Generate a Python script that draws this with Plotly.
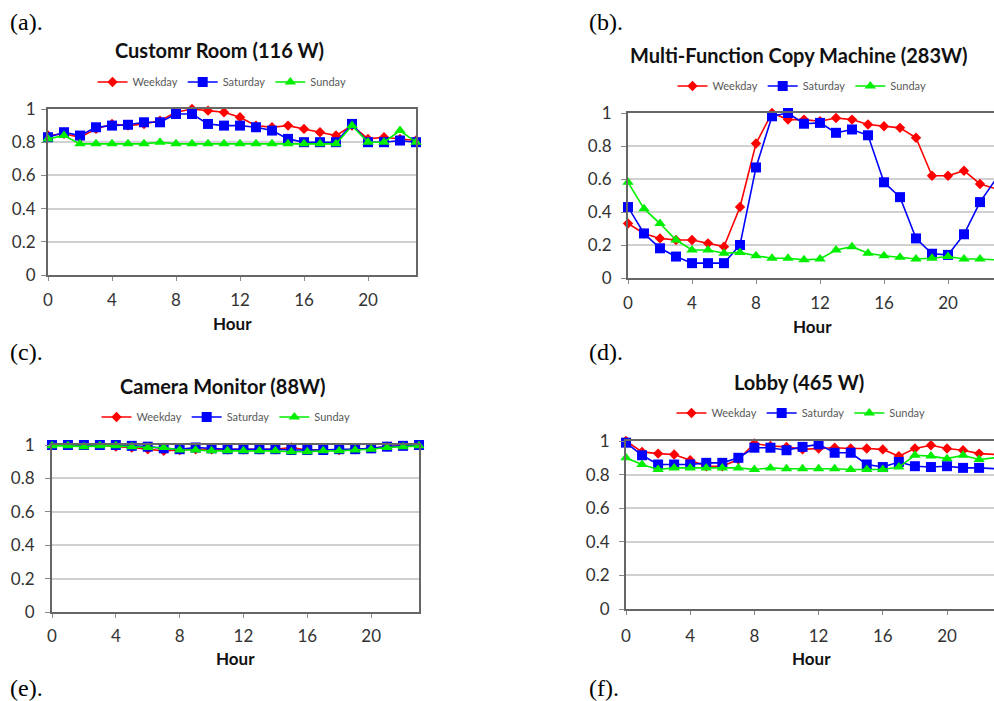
import plotly.graph_objects as go

W, H = 994, 701

hours = list(range(24))

# (a) Customr Room (116 W)
room_weekday = [0.84, 0.85, 0.83, 0.88, 0.91, 0.90, 0.91, 0.93, 0.98, 1.00, 0.99, 0.98, 0.95, 0.90, 0.89, 0.90,
                0.88, 0.86, 0.84, 0.90, 0.82, 0.83, 0.82, 0.81]
room_saturday = [0.83, 0.86, 0.84, 0.89, 0.90, 0.905, 0.92, 0.92, 0.97, 0.97, 0.91, 0.90, 0.90, 0.89, 0.87, 0.82,
                 0.80, 0.80, 0.80, 0.91, 0.80, 0.80, 0.81, 0.80]
room_sunday = [0.82, 0.84, 0.79, 0.79, 0.79, 0.79, 0.79, 0.80, 0.79, 0.79, 0.79, 0.79, 0.79, 0.79, 0.79, 0.79,
               0.79, 0.79, 0.79, 0.90, 0.80, 0.80, 0.87, 0.80]

# (b) Multi-Function Copy Machine (283W)
copy_weekday = [0.33, 0.27, 0.24, 0.23, 0.23, 0.21, 0.19, 0.43, 0.815, 1.00, 0.96, 0.96, 0.95, 0.97, 0.96, 0.93,
                0.92, 0.91, 0.85, 0.62, 0.62, 0.65, 0.57, 0.54]
copy_saturday = [0.43, 0.27, 0.18, 0.13, 0.09, 0.09, 0.09, 0.20, 0.67, 0.98, 1.00, 0.935, 0.94, 0.88, 0.90, 0.865,
                 0.58, 0.49, 0.24, 0.147, 0.14, 0.265, 0.46, 0.60]
copy_sunday = [0.58, 0.42, 0.33, 0.23, 0.17, 0.17, 0.15, 0.155, 0.135, 0.12, 0.12, 0.11, 0.115, 0.17, 0.19, 0.15,
               0.135, 0.125, 0.115, 0.12, 0.13, 0.115, 0.115, 0.11]

# (c) Camera Monitor (88W)
cam_weekday = [1.0, 1.0, 1.0, 1.0, 0.99, 0.985, 0.975, 0.965, 0.97, 0.975, 0.975, 0.975, 0.975, 0.975, 0.975, 0.985,
               0.97, 0.97, 0.97, 0.975, 0.98, 0.99, 0.995, 1.0]
cam_saturday = [1.0, 1.0, 1.0, 1.0, 1.0, 0.995, 0.99, 0.98, 0.975, 0.985, 0.98, 0.975, 0.975, 0.975, 0.975, 0.97,
                0.97, 0.97, 0.975, 0.975, 0.98, 0.99, 0.995, 1.0]
cam_sunday = [0.995, 0.995, 0.99, 0.995, 0.995, 0.99, 0.985, 0.985, 0.97, 0.97, 0.965, 0.965, 0.965, 0.965, 0.965,
              0.96, 0.96, 0.965, 0.965, 0.97, 0.975, 0.985, 0.99, 0.995]

# (d) Lobby (465 W)
lobby_weekday = [1.0, 0.935, 0.925, 0.92, 0.885, 0.85, 0.85, 0.89, 0.985, 0.97, 0.965, 0.95, 0.955, 0.96, 0.955,
                 0.955, 0.95, 0.91, 0.955, 0.975, 0.955, 0.945, 0.925, 0.92]
lobby_saturday = [0.99, 0.915, 0.86, 0.86, 0.86, 0.87, 0.87, 0.90, 0.96, 0.96, 0.945, 0.965, 0.98, 0.93, 0.93, 0.86,
                  0.845, 0.875, 0.85, 0.845, 0.85, 0.84, 0.84, 0.835]
lobby_sunday = [0.90, 0.86, 0.83, 0.84, 0.84, 0.84, 0.84, 0.84, 0.83, 0.84, 0.835, 0.835, 0.835, 0.835, 0.83, 0.83,
                0.83, 0.845, 0.915, 0.91, 0.895, 0.915, 0.89, 0.90]

series_names = ["Weekday", "Saturday", "Sunday"]
titles = ["Customr Room (116 W)", "Multi-Function Copy Machine (283W)", "Camera Monitor (88W)", "Lobby (465 W)"]
panel_labels = ["(a).", "(b).", "(c).", "(d).", "(e).", "(f)."]
y_ticks = [0, 0.2, 0.4, 0.6, 0.8, 1]
x_ticks = [0, 4, 8, 12, 16, 20]

panels_data = [
    (room_weekday, room_saturday, room_sunday),
    (copy_weekday, copy_saturday, copy_sunday),
    (cam_weekday, cam_saturday, cam_sunday),
    (lobby_weekday, lobby_saturday, lobby_sunday),
]

# layout geometry (pixels)
geo = [
    dict(x0=48, x1=416, xmax=23, ytop=109, ybot=275, title=(219, 50), legend=(222, 82), hour=(232, 323),
         closed=True, ystand=2, xstand=5),
    dict(x0=628, x1=994, xmax=(994 - 628) / 16.0, ytop=113, ybot=278, title=(799, 55), legend=(802, 86),
         hour=(812, 327), closed=False, ystand=6, xstand=5),
    dict(x0=52, x1=419, xmax=23, ytop=445, ybot=612, title=(223, 386), legend=(226, 417), hour=(235, 658),
         closed=True, ystand=7, xstand=4),
    dict(x0=626, x1=994, xmax=(994 - 626) / 16.05, ytop=441, ybot=609, title=(799, 382), legend=(801, 413),
         hour=(811, 658), closed=False, ystand=6, xstand=7),
]
label_pos = [(8, 22), (587, 22), (8, 352), (587, 352), (8, 688), (587, 688)]

def px_x(x):
    return x / W

def px_y(y):
    return 1 - y / H

colors = ["#FF0000", "#0000FF", "#00EE00"]
symbols = ["diamond", "square", "triangle-up"]
msizes = [8, 10, 10]

fig = go.Figure()
annotations = []
layout = {}

for i, (data, g) in enumerate(zip(panels_data, geo)):
    n = "" if i == 0 else str(i + 1)
    leg = "legend" if i == 0 else f"legend{i + 1}"
    for k in range(3):
        fig.add_trace(go.Scatter(
            x=hours, y=data[k], name=series_names[k], mode="lines+markers",
            line=dict(color=colors[k], width=1.6),
            marker=dict(symbol=symbols[k], size=msizes[k], color=colors[k], line=dict(width=0)),
            xaxis="x" + n, yaxis="y" + n, legend=leg, cliponaxis=False,
        ))
    layout["xaxis" + n] = dict(
        domain=[px_x(g["x0"]), px_x(g["x1"])], range=[0, g["xmax"]], anchor="y" + n,
        tickvals=x_ticks, ticks="outside", ticklen=4, tickcolor="#888888",
        showgrid=False, zeroline=False, showline=True, linecolor="#666666", linewidth=2,
        mirror=True, automargin=False, ticklabelstandoff=g["xstand"],
        tickfont=dict(family="Lato", size=17, color="#333333"),
    )
    layout["yaxis" + n] = dict(
        domain=[px_y(g["ybot"]), px_y(g["ytop"])], range=[0, 1], anchor="x" + n,
        tickvals=y_ticks, ticktext=["0", "0.2", "0.4", "0.6", "0.8", "1"],
        ticks="outside", ticklen=5, tickcolor="#888888",
        showgrid=True, gridcolor="#D0D0D0", gridwidth=1.5, zeroline=False,
        showline=True, linecolor="#666666", linewidth=2, mirror=g["closed"], automargin=False,
        ticklabelstandoff=g["ystand"],
        tickfont=dict(family="Lato", size=17, color="#333333"),
    )
    layout[leg] = dict(
        x=px_x(g["legend"][0]), y=px_y(g["legend"][1]), xanchor="center", yanchor="middle",
        orientation="h", font=dict(family="Lato", size=11, color="#595959"),
        bgcolor="rgba(0,0,0,0)", itemwidth=30, tracegroupgap=0,
    )
    annotations.append(dict(
        text="<b>" + titles[i] + "</b>", x=px_x(g["title"][0]), y=px_y(g["title"][1]),
        xref="paper", yref="paper", showarrow=False, xanchor="center", yanchor="middle",
        font=dict(family="Lato", size=20, color="#111111"),
    ))
    annotations.append(dict(
        text="<b>Hour</b>", x=px_x(g["hour"][0]), y=px_y(g["hour"][1]),
        xref="paper", yref="paper", showarrow=False, xanchor="center", yanchor="middle",
        font=dict(family="Lato", size=17, color="#111111"),
    ))

for lab, (lx, ly) in zip(panel_labels, label_pos):
    annotations.append(dict(
        text=lab, x=px_x(lx), y=px_y(ly), xref="paper", yref="paper", showarrow=False,
        xanchor="left", yanchor="middle",
        font=dict(family="Liberation Serif", size=24, color="#000000"),
    ))

fig.update_layout(
    width=W, height=H, margin=dict(l=0, r=0, t=0, b=0, pad=0, autoexpand=False),
    paper_bgcolor="white", plot_bgcolor="white",
    annotations=annotations, **layout,
)

fig.write_html(
    "out.html",
    config={"displayModeBar": False},
    post_script="document.body.style.margin='0';document.body.style.overflow='hidden';",
)
